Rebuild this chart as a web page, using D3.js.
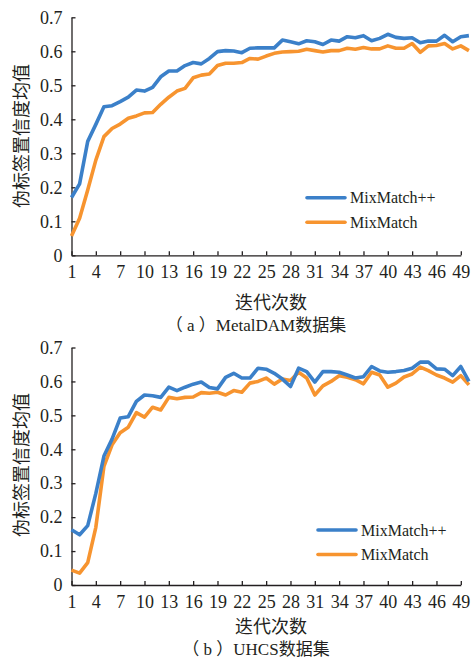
<!DOCTYPE html>
<html>
<head>
<meta charset="utf-8">
<script src="https://cdn.jsdelivr.net/npm/d3@7"></script>
<style>
  body { margin: 0; background: #fff; }
  svg text { font-family: "Liberation Serif", "Noto Sans CJK SC", serif; fill: #231f20; }
  .axis path, .axis line { stroke: #231f20; stroke-width: 1.3; }
</style>
</head>
<body>
<div id="chart"></div>
<script>
// iterations 1..50, labelled every 3
var epochs = d3.range(1, 51);
var xTicks = [1, 4, 7, 10, 13, 16, 19, 22, 25, 28, 31, 34, 37, 40, 43, 46, 49];
var yTicks = [0, 0.1, 0.2, 0.3, 0.4, 0.5, 0.6, 0.7];
var seriesNames = ["MixMatch++", "MixMatch"];
var colors = ["#3b80c9", "#f7942f"];

// (a) MetalDAM
var metalPlus = [0.17, 0.21, 0.335, 0.385, 0.437, 0.44, 0.452, 0.465, 0.486, 0.483,
                 0.494, 0.525, 0.542, 0.542, 0.558, 0.567, 0.563, 0.579, 0.599, 0.602,
                 0.601, 0.596, 0.609, 0.61, 0.61, 0.61, 0.633, 0.628, 0.622, 0.631,
                 0.628, 0.62, 0.633, 0.63, 0.643, 0.64, 0.646, 0.631, 0.638, 0.65,
                 0.641, 0.638, 0.64, 0.625, 0.63, 0.63, 0.647, 0.628, 0.643, 0.646];
var metalBase = [0.057, 0.109, 0.192, 0.28, 0.349, 0.373, 0.386, 0.403, 0.41, 0.419,
                 0.42, 0.444, 0.465, 0.483, 0.491, 0.522, 0.53, 0.533, 0.558, 0.565,
                 0.565, 0.567, 0.579, 0.577, 0.586, 0.594, 0.598, 0.599, 0.6, 0.606,
                 0.602, 0.598, 0.602, 0.602, 0.609, 0.606, 0.611, 0.607, 0.607, 0.616,
                 0.609, 0.609, 0.623, 0.597, 0.616, 0.617, 0.623, 0.607, 0.616, 0.602];

// (b) UHCS
var uhcsPlus = [0.163, 0.148, 0.175, 0.27, 0.38, 0.43, 0.492, 0.496, 0.541, 0.56,
                0.558, 0.553, 0.583, 0.573, 0.583, 0.592, 0.598, 0.582, 0.578, 0.612,
                0.624, 0.61, 0.61, 0.639, 0.636, 0.624, 0.607, 0.585, 0.639, 0.629,
                0.598, 0.629, 0.629, 0.627, 0.619, 0.61, 0.614, 0.644, 0.631, 0.627,
                0.629, 0.632, 0.639, 0.657, 0.657, 0.637, 0.636, 0.617, 0.644, 0.6];
var uhcsBase = [0.044, 0.035, 0.066, 0.17, 0.35, 0.413, 0.449, 0.465, 0.508, 0.495,
                0.524, 0.516, 0.553, 0.549, 0.553, 0.554, 0.567, 0.565, 0.568, 0.56,
                0.573, 0.568, 0.595, 0.6, 0.61, 0.592, 0.607, 0.603, 0.627, 0.61,
                0.56, 0.587, 0.6, 0.617, 0.612, 0.605, 0.593, 0.627, 0.619, 0.583,
                0.595, 0.613, 0.622, 0.642, 0.632, 0.619, 0.61, 0.598, 0.617, 0.59];

var svg = d3.select("#chart").append("svg")
    .attr("width", 471)
    .attr("height", 658);

function draw(p) {
    var x = d3.scaleLinear().domain([1, 49]).range([71.5, 460.8]);
    var y = d3.scaleLinear().domain([0, 0.7]).range([p.bottom, p.top]);

    var g = svg.append("g");

    g.append("g")
        .attr("class", "axis")
        .attr("transform", "translate(0," + p.bottom + ")")
        .call(d3.axisBottom(x).tickValues(xTicks).tickSize(-4).tickSizeOuter(0).tickPadding(10))
        .call(function (a) { a.selectAll("text").attr("font-size", 18).attr("font-family", null); });

    g.append("g")
        .attr("class", "axis")
        .attr("transform", "translate(" + x(1) + ",0)")
        .call(d3.axisLeft(y).tickValues(yTicks).tickSize(-4).tickSizeOuter(0).tickPadding(9)
            .tickFormat(function (d) { return d === 0 ? "0" : d3.format(".1f")(d); }))
        .call(function (a) { a.selectAll("text").attr("font-size", 18).attr("font-family", null); });

    var line = d3.line()
        .x(function (d, i) { return x(epochs[i]); })
        .y(function (d) { return y(d); });

    // draw base series first so the ++ line sits on top
    [1, 0].forEach(function (k) {
        g.append("path")
            .datum(p.series[k])
            .attr("fill", "none")
            .attr("stroke", colors[k])
            .attr("stroke-width", 3.6)
            .attr("stroke-linejoin", "round")
            .attr("d", line);
    });

    var legend = g.selectAll(".legend")
        .data(seriesNames)
      .enter().append("g")
        .attr("class", "legend")
        .attr("transform", function (d, i) { return "translate(" + p.legendX + "," + (p.legendY + i * 24.5) + ")"; });

    legend.append("line")
        .attr("x1", 0).attr("x2", 38)
        .attr("stroke", function (d, i) { return colors[i]; })
        .attr("stroke-width", 3.6)
        .attr("stroke-linecap", "round");

    legend.append("text")
        .attr("x", 43)
        .attr("dy", "0.35em")
        .attr("font-size", 16)
        .text(function (d) { return d; });

    g.append("text")
        .attr("transform", "translate(22," + p.yTitleY + ") rotate(-90)")
        .attr("text-anchor", "middle")
        .attr("dy", "0.35em")
        .attr("font-size", 18)
        .text("伪标签置信度均值");

    g.append("text")
        .attr("x", 271)
        .attr("y", p.xTitleY)
        .attr("dy", "0.35em")
        .attr("text-anchor", "middle")
        .attr("font-size", 18)
        .text("迭代次数");

    g.append("text")
        .attr("x", 256)
        .attr("y", p.captionY)
        .attr("dy", "0.35em")
        .attr("text-anchor", "middle")
        .attr("font-size", 17)
        .text(p.caption);
}

draw({ top: 17.3, bottom: 255.3, series: [metalPlus, metalBase],
       legendX: 307, legendY: 197.7, yTitleY: 136, xTitleY: 303, captionY: 325,
       caption: "（ a ）MetalDAM数据集" });

draw({ top: 347.5, bottom: 585, series: [uhcsPlus, uhcsBase],
       legendX: 318, legendY: 530, yTitleY: 465, xTitleY: 627, captionY: 649,
       caption: "（ b ）UHCS数据集" });
</script>
</body>
</html>
